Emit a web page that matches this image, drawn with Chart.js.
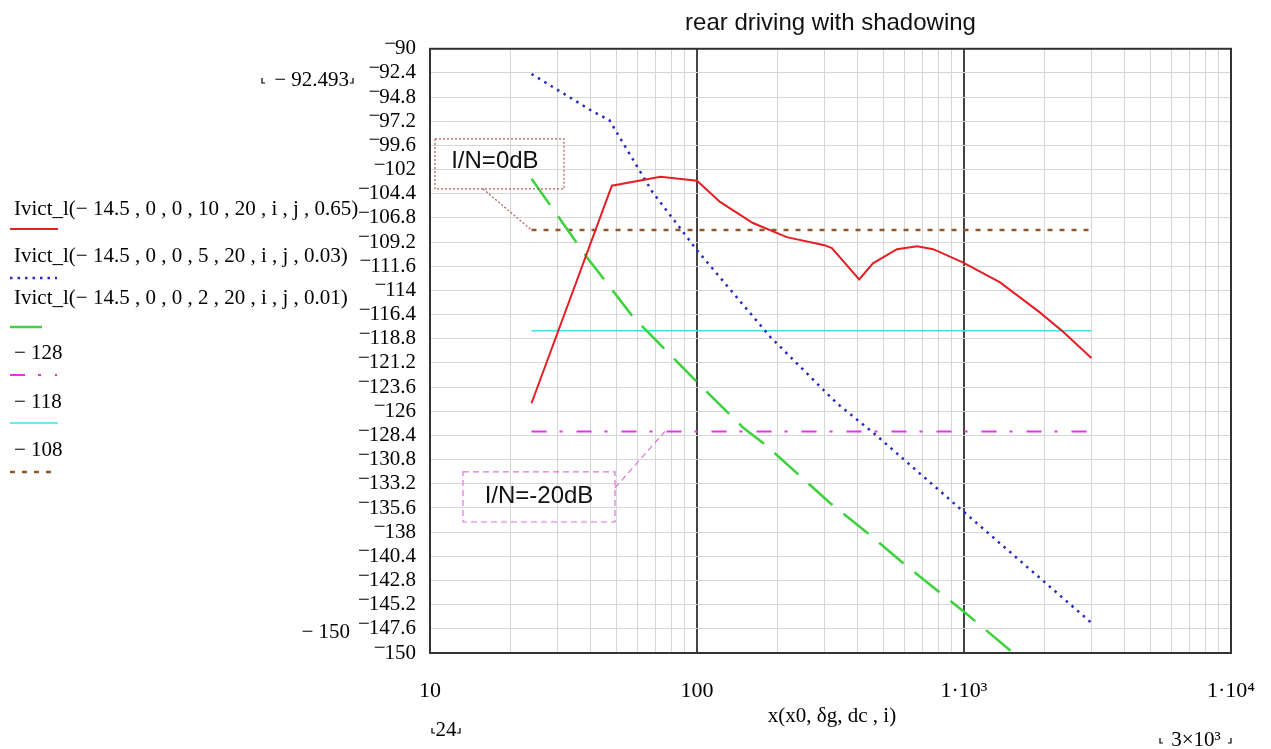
<!DOCTYPE html>
<html>
<head>
<meta charset="utf-8">
<script src="https://cdn.jsdelivr.net/npm/chart.js@4.4.1/dist/chart.umd.min.js"></script>
<style>
  body { margin: 0; background: #fff; }
  #wrap { width: 1271px; height: 749px; }
</style>
</head>
<body>
<div id="wrap"><canvas id="myChart"></canvas></div>
<script>
// x span of the curves
var xRange = [24, 3000];

// Ivict_l(-14.5,0,0,10,20,i,j,0.65)
var redX = [24, 48, 73, 100, 122, 162, 217, 300, 320, 405, 456, 561, 667, 766, 990, 1365, 1928, 2350, 3000];
var redY = [-125.2, -103.6, -102.7, -103.1, -105.2, -107.3, -108.7, -109.5, -109.8, -112.9, -111.3, -109.9, -109.6, -109.9, -111.2, -113.2, -116.2, -118.1, -120.7];

// Ivict_l(-14.5,0,0,5,20,i,j,0.03)
var blueX = [24, 40, 47, 68, 100, 188, 334, 456, 1000, 3000];
var blueY = [-92.5, -96.1, -97.1, -104.2, -110.0, -118.6, -125.2, -128.1, -136.0, -147.0];

// Ivict_l(-14.5,0,0,2,20,i,j,0.01)
var greenX = [24, 38.7, 57.5, 100, 148.6, 180, 315, 445, 612, 1000, 1530];
var greenY = [-102.9, -110.7, -116.6, -123.1, -127.6, -129.3, -135.1, -138.3, -141.4, -145.9, -150];

// constant levels
var refLevels = [-128, -118, -108];

var legendLabels = [
    'Ivict_l(\u2212 14.5 , 0 , 0 , 10 , 20 , i , j , 0.65)',
    'Ivict_l(\u2212 14.5 , 0 , 0 , 5 , 20 , i , j , 0.03)',
    'Ivict_l(\u2212 14.5 , 0 , 0 , 2 , 20 , i , j , 0.01)',
    '\u2212 128', '\u2212 118', '\u2212 108'
];

var yTicks = [-90, -92.4, -94.8, -97.2, -99.6, -102, -104.4, -106.8, -109.2, -111.6, -114, -116.4, -118.8,
    -121.2, -123.6, -126, -128.4, -130.8, -133.2, -135.6, -138, -140.4, -142.8, -145.2, -147.6, -150];
var xGrid = [10, 20, 30, 40, 50, 60, 70, 80, 90, 100, 200, 300, 400, 500, 600, 700, 800, 900,
    1000, 2000, 3000, 4000, 5000, 6000, 7000, 8000, 9000, 10000];
var xTickValues = [10, 100, 1000, 10000];
var xTickLabels = ['10', '100', '1\u00b710\u00b3', '1\u00b710\u2074'];

function pts(xs, ys) {
    return xs.map(function (x, i) { return { x: x, y: ys[i] }; });
}
function flat(v) {
    return [{ x: xRange[0], y: v }, { x: xRange[1], y: v }];
}

var serif = '"Liberation Serif", "Times New Roman", serif';
var sans = '"Liberation Sans", Arial, sans-serif';

var overlay = {
    id: 'overlay',
    afterDraw: function (chart) {
        var ctx = chart.ctx, a = chart.chartArea;
        var xs = chart.scales.x, ys = chart.scales.y;
        var px = function (v) { return xs.getPixelForValue(v); };
        var py = function (v) { return ys.getPixelForValue(v); };
        ctx.save();

        // plot frame
        ctx.strokeStyle = '#333';
        ctx.lineWidth = 2;
        ctx.setLineDash([]);
        ctx.strokeRect(a.left, a.top, a.right - a.left, a.bottom - a.top);

        // y tick labels with the raised Mathcad minus
        ctx.font = '21px ' + serif;
        ctx.textBaseline = 'middle';
        ctx.fillStyle = '#000';
        ys.ticks.forEach(function (t) {
            var s = String(-t.value);
            var y = py(t.value);
            var right = a.left - 14;
            ctx.textAlign = 'right';
            ctx.fillText(s, right, y);
            var w = ctx.measureText(s).width;
            ctx.fillText('\u2212', right - w + 1, y - 4.5);
        });

        // legend on the left, like the Mathcad trace list
        var textY = [209, 256, 298, 353, 402, 450];
        var lineY = [229, 278, 327, 375, 423, 472];
        var lineLen = [48, 47, 33, 47, 48, 47];
        ctx.textAlign = 'left';
        chart.data.datasets.forEach(function (ds, i) {
            ctx.fillStyle = '#000';
            ctx.fillText(ds.label, 14, textY[i]);
            ctx.strokeStyle = ds.borderColor;
            ctx.lineWidth = ds.borderWidth;
            ctx.setLineDash(ds.borderDash || []);
            ctx.beginPath();
            ctx.moveTo(10, lineY[i]);
            ctx.lineTo(10 + lineLen[i], lineY[i]);
            ctx.stroke();
        });
        ctx.setLineDash([]);

        function corners(x1, x2, y) {
            ctx.strokeStyle = '#000';
            ctx.lineWidth = 1.2;
            ctx.beginPath();
            ctx.moveTo(x1, y + 2); ctx.lineTo(x1, y + 7); ctx.lineTo(x1 + 3, y + 7);
            ctx.moveTo(x2, y + 2); ctx.lineTo(x2, y + 7); ctx.lineTo(x2 - 3, y + 7);
            ctx.stroke();
        }
        function label(t, x, y, align) {
            ctx.textAlign = align;
            ctx.fillStyle = '#000';
            ctx.fillText(t, x, y);
        }

        // axis limit markers
        label('\u2212 92.493', 349, 80, 'right');
        corners(262, 353, 76);
        label('\u2212 150', 350, 632, 'right');
        label('24', 446, 730, 'center');
        corners(432, 460, 726);
        label('x(x0, \u03b4g, dc , i)', 832, 716, 'center');
        label('3\u00d710\u00b3', 1196, 740, 'center');
        corners(1160, 1231, 736);

        // annotation boxes
        function box(x1, x2, y1, y2, color, dash, text, tx, ty, l1, l2) {
            ctx.strokeStyle = color;
            ctx.lineWidth = 1.2;
            ctx.setLineDash(dash);
            ctx.strokeRect(px(x1), py(y1), px(x2) - px(x1), py(y2) - py(y1));
            ctx.beginPath();
            ctx.moveTo(px(l1[0]), py(l1[1]));
            ctx.lineTo(px(l2[0]), py(l2[1]));
            ctx.stroke();
            ctx.setLineDash([]);
            ctx.font = '24px ' + sans;
            ctx.fillStyle = '#111';
            ctx.textAlign = 'center';
            ctx.fillText(text, px(tx), py(ty));
        }
        box(10.44, 31.76, -98.94, -103.91, '#b05a5a', [2, 2], 'I/N=0dB', 17.5, -101.2, [15.8, -103.91], [24, -108]);
        box(13.29, 49.3, -132.02, -136.99, '#e070e0', [6, 4], 'I/N=-20dB', 25.6, -134.4, [49.3, -133.6], [75.9, -128]);

        ctx.restore();
    }
};

var ctx = document.getElementById('myChart').getContext('2d');
var chart = new Chart(ctx, {
    type: 'line',
    data: {
        datasets: [{
            label: legendLabels[0],
            data: pts(redX, redY),
            borderColor: 'rgb(228, 30, 36)',
            borderWidth: 2
        }, {
            label: legendLabels[1],
            data: pts(blueX, blueY),
            borderColor: 'rgb(40, 40, 200)',
            borderWidth: 2.5,
            borderDash: [2.5, 5]
        }, {
            label: legendLabels[2],
            data: pts(greenX, greenY),
            borderColor: 'rgb(60, 210, 60)',
            borderWidth: 2.5,
            borderDash: [32, 14]
        }, {
            label: legendLabels[3],
            data: flat(refLevels[0]),
            borderColor: 'rgb(228, 50, 228)',
            borderWidth: 2,
            borderDash: [15, 13, 3, 14]
        }, {
            label: legendLabels[4],
            data: flat(refLevels[1]),
            borderColor: 'rgb(60, 228, 228)',
            borderWidth: 1.5
        }, {
            label: legendLabels[5],
            data: flat(refLevels[2]),
            borderColor: 'rgb(140, 90, 40)',
            borderWidth: 2.5,
            borderDash: [5, 7]
        }]
    },
    options: {
        responsive: true,
        maintainAspectRatio: false,
        animation: false,
        elements: { point: { radius: 0 }, line: { tension: 0 } },
        layout: { padding: { right: 40 } },
        plugins: {
            legend: { display: false },
            tooltip: { enabled: false },
            title: {
                display: true,
                fullSize: false,
                text: 'rear driving with shadowing',
                color: '#111',
                font: { family: sans, size: 24, weight: 'normal' },
                padding: { top: 9, bottom: 11 }
            }
        },
        scales: {
            x: {
                type: 'logarithmic',
                min: 10,
                max: 10000,
                afterBuildTicks: function (s) {
                    s.ticks = xGrid.map(function (v) { return { value: v }; });
                },
                afterFit: function (s) {
                    s.height = 96;
                    s.paddingLeft = 0;
                    s.paddingRight = 0;
                },
                border: { display: false },
                grid: {
                    drawTicks: false,
                    color: function (c) {
                        return c.tick && (c.tick.value === 100 || c.tick.value === 1000) ? '#444' : '#d6d6d6';
                    },
                    lineWidth: function (c) {
                        return c.tick && (c.tick.value === 100 || c.tick.value === 1000) ? 2 : 1;
                    }
                },
                ticks: {
                    autoSkip: false,
                    maxRotation: 0,
                    padding: 25,
                    color: '#000',
                    font: { family: serif, size: 22 },
                    callback: function (v) {
                        var k = xTickValues.indexOf(v);
                        return k >= 0 ? xTickLabels[k] : '';
                    }
                }
            },
            y: {
                type: 'linear',
                min: -150,
                max: -90,
                afterBuildTicks: function (s) {
                    s.ticks = yTicks.map(function (v) { return { value: v }; });
                },
                afterFit: function (s) {
                    s.width = 430;
                    s.paddingTop = 0;
                    s.paddingBottom = 0;
                },
                border: { display: false },
                grid: { drawTicks: false, color: '#d6d6d6', lineWidth: 1 },
                ticks: { display: false }
            }
        }
    },
    plugins: [overlay]
});
</script>
</body>
</html>
